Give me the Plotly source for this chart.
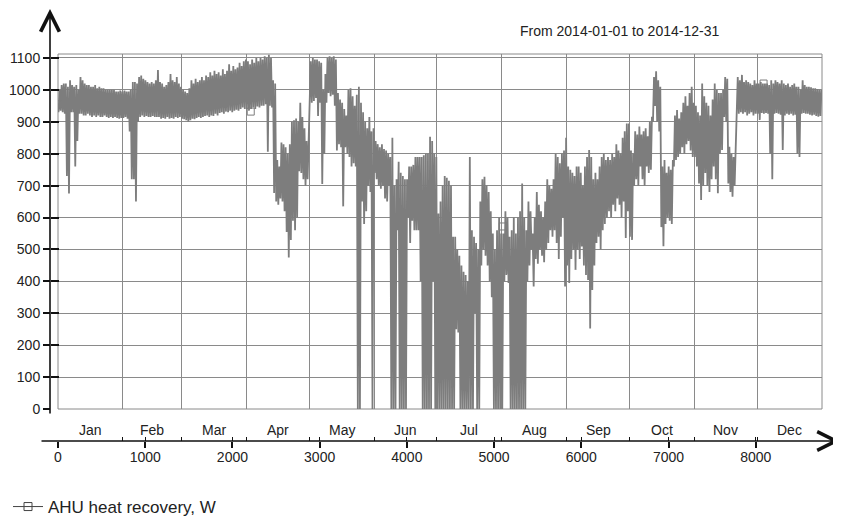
import plotly.graph_objects as go

# ---------------- data ----------------
months = ["Jan", "Feb", "Mar", "Apr", "May", "Jun",
          "Jul", "Aug", "Sep", "Oct", "Nov", "Dec"]
month_start_hours = [0, 744, 1416, 2160, 2880, 3624, 4344,
                     5088, 5832, 6552, 7296, 8016, 8760]
y_ticks = [0, 100, 200, 300, 400, 500, 600, 700, 800, 900, 1000, 1100]
x_ticks = [0, 1000, 2000, 3000, 4000, 5000, 6000, 7000, 8000]

# daily minimum / maximum of the hourly series (W)
day_low = [
    # Jan
    930, 935, 930, 925, 730, 675, 930, 930, 760, 840, 925, 925, 920, 920, 925, 920,
    915, 920, 915, 920, 915, 915, 920, 915, 912, 915, 912, 915, 912, 910, 912,
    # Feb
    912, 915, 910, 870, 720, 720, 650, 900, 915, 920, 915, 918, 915, 915, 918, 915,
    915, 915, 910, 912, 910, 915, 910, 912, 910, 915, 912, 915,
    # Mar
    910, 908, 905, 900, 905, 910, 908, 912, 915, 912, 915, 918, 920, 915, 920, 918,
    925, 920, 928, 930, 925, 932, 930, 935, 930, 935, 938, 935, 940, 945, 940,
    # Apr
    940, 935, 940, 945, 940, 948, 945, 950, 950, 955, 806, 950, 945, 677, 650, 640,
    660, 650, 620, 555, 475, 530, 590, 560, 600, 745, 740, 720, 700, 720,
    # May
    970, 960, 965, 975, 918, 960, 705, 800, 960, 990, 980, 985, 950, 810, 830, 820,
    635, 820, 800, 790, 760, 770, 760, 0, 0, 650, 580, 620, 700, 680, 0,
    # Jun
    740, 720, 700, 690, 700, 660, 650, 700, 0, 0, 0, 560, 0, 0, 0, 0,
    600, 520, 590, 560, 560, 560, 400, 0, 0, 0, 0, 0, 400, 0,
    # Jul
    0, 0, 0, 0, 0, 0, 0, 0, 0, 250, 240, 0, 0, 0, 0, 0,
    0, 0, 300, 0, 0, 450, 500, 480, 450, 400, 350, 0, 0, 0, 0,
    # Aug
    0, 400, 420, 395, 0, 0, 0, 0, 0, 0, 0, 0, 400, 450, 500, 384,
    470, 455, 500, 480, 460, 500, 520, 560, 540, 560, 520, 470, 540, 600, 384,
    # Sep
    450, 395, 470, 500, 436, 500, 470, 509, 450, 420, 404, 252, 373, 450, 520, 540,
    500, 560, 580, 600, 620, 600, 640, 620, 660, 640, 600, 650, 536, 620,
    # Oct
    540, 530, 700, 720, 700, 760, 720, 700, 760, 740, 750, 900, 950, 900, 870, 570,
    510, 580, 600, 590, 580, 760, 780, 790, 800, 820, 800, 830, 840, 810, 790,
    # Nov
    790, 760, 707, 655, 700, 740, 700, 680, 720, 760, 720, 676, 800, 812, 915, 900,
    707, 680, 665, 700, 920, 925, 930, 925, 930, 920, 925, 930, 920, 925,
    # Dec
    925, 906, 928, 925, 928, 925, 800, 720, 925, 928, 925, 922, 812, 920, 925, 922,
    925, 920, 922, 800, 790, 925, 928, 925, 925, 922, 920, 922, 918, 916, 918,
]
day_high = [
    # Jan
    1000, 1015, 1020, 1020, 1010, 1030, 1015, 1010, 1015, 1000, 1040, 1030, 1020, 1015, 1015, 1010,
    1010, 1015, 1005, 1010, 1005, 1005, 1000, 1000, 1000, 1000, 1000, 995, 995, 998, 995,
    # Feb
    998, 995, 995, 1000, 1025, 1025, 1020, 1040, 1045, 1035, 1030, 1025, 1020, 1025, 1020, 1030,
    1062, 1025, 1020, 1010, 1015, 1025, 1050, 1030, 1025, 1040, 1020, 1010,
    # Mar
    1000, 995, 990, 1005, 1030, 1020, 1035, 1025, 1030, 1040, 1030, 1045, 1040, 1055, 1045, 1060,
    1050, 1055, 1045, 1065, 1050, 1060, 1080, 1060, 1075, 1065, 1070, 1085, 1075, 1090, 1095,
    # Apr
    1090, 1080, 1095, 1085, 1100, 1090, 1100, 1095, 1105, 1100, 1110, 1100, 1030, 1020, 780, 760,
    835, 830, 820, 800, 830, 900, 905, 910, 900, 960, 915, 880, 840, 822,
    # May
    1090, 1100, 1095, 1095, 1090, 1085, 1000, 1050, 1100, 1105, 1100, 1105, 1095, 990, 970, 960,
    940, 920, 1000, 1005, 980, 950, 985, 1010, 960, 930, 900, 880, 915, 870, 880,
    # Jun
    840, 830, 820, 830, 815, 810, 800, 790, 850, 700, 720, 775, 740, 730, 720, 720,
    760, 760, 765, 790, 790, 790, 790, 795, 800, 800, 853, 840, 800, 790,
    # Jul
    613, 650, 700, 730, 725, 715, 700, 540, 540, 500, 480, 450, 430, 420, 400, 790,
    560, 540, 520, 500, 650, 720, 728, 700, 680, 620, 550, 500, 560, 600, 550,
    # Aug
    550, 620, 600, 540, 560, 600, 550, 600, 620, 707, 600, 560, 650, 620, 550, 600,
    680, 640, 620, 600, 650, 720, 700, 690, 720, 800, 790, 770, 800, 810, 850,
    # Sep
    760, 750, 740, 730, 760, 760, 740, 700, 760, 790, 812, 790, 720, 740, 720, 760,
    790, 800, 780, 790, 780, 800, 790, 830, 810, 800, 850, 870, 895, 895,
    # Oct
    810, 800, 870, 860, 885, 860, 870, 880, 855, 900, 916, 1040, 1058, 1030, 1010, 760,
    780, 740, 760, 750, 780, 920, 937, 910, 930, 960, 980, 950, 990, 1010, 960,
    # Nov
    950, 930, 920, 1020, 980, 960, 950, 920, 970, 1020, 1000, 990, 990, 1000, 1040, 1035,
    822, 800, 790, 820, 1040, 1030, 1047, 1025, 1030, 1025, 1020, 1015, 1030, 1020,
    # Dec
    1020, 1025, 1020, 1020, 1020, 1015, 1030, 1020, 1030, 1025, 1020, 1030, 1020, 1015, 1020, 1010,
    1015, 1020, 1010, 1010, 1000, 1030, 1015, 1010, 1010, 1008, 1005, 1005, 1003, 1000, 1000,
]
# hours where the series' square markers are drawn, and their values
marker_hours = [0, 2210, 5100, 8090]
marker_values = [955, 932, 572, 1020]

series_name = "AHU heat recovery, W"

# hourly trace: each day swings between its low and its high
hours, values = [], []
for d, (lo, hi) in enumerate(zip(day_low, day_high)):
    hours += [d * 24 + 6, d * 24 + 18]
    values += [lo, hi]

GRID = "#8a8a8a"
LINE = "#7d7d7d"
FONT = "Liberation Sans, Arial, sans-serif"

fig = go.Figure()
fig.add_trace(go.Scatter(x=hours, y=values, mode="lines",
                         line=dict(color=LINE, width=1.8),
                         showlegend=False, hoverinfo="skip"))
fig.add_trace(go.Scatter(x=marker_hours, y=marker_values, mode="markers",
                         marker=dict(symbol="square-open", size=7,
                                     color=LINE, line=dict(width=1)),
                         showlegend=False, hoverinfo="skip"))
fig.add_trace(go.Scatter(x=[None], y=[None], mode="lines+markers",
                         name=series_name,
                         line=dict(color="#444444", width=1),
                         marker=dict(symbol="square-open", size=8,
                                     color="#444444", line=dict(width=1))))
# helper axes (no visible data)
fig.add_trace(go.Scatter(x=[None], y=[None], xaxis="x2", yaxis="y",
                         showlegend=False, hoverinfo="skip"))
fig.add_trace(go.Scatter(x=[None], y=[None], xaxis="x3", yaxis="y",
                         showlegend=False, hoverinfo="skip"))
fig.add_trace(go.Scatter(x=[None], y=[None], xaxis="x", yaxis="y2",
                         showlegend=False, hoverinfo="skip"))

# the page body adds an 8px offset, so the figure is 8px smaller each way
W, H = 833, 512
ML, MR, MT, MB = 42, 19, 2, 79
PW, PH = W - ML - MR, H - MT - MB
x_dom = [8 / PW, 1]
y_dom = [32 / PH, 387 / PH]
x_range = [month_start_hours[0], month_start_hours[-1]]
y_range = [0, 1112.5]

annotations = []
for i, m in enumerate(months):
    annotations.append(dict(
        x=(month_start_hours[i] + month_start_hours[i + 1]) / 2, xref="x",
        y=0, yref="paper", yanchor="bottom", yshift=1,
        text=m, showarrow=False, font=dict(size=14, color="#222")))
# title text
annotations.append(dict(x=(619 - 50) / PW, xref="paper", y=(441 - 31) / PH,
                        yref="paper", text="From 2014-01-01 to 2014-12-31",
                        showarrow=False, font=dict(size=14, color="#222"),
                        xanchor="center", yanchor="middle"))
# y axis arrow
annotations.append(dict(x=0, xref="paper", y=(441 - 8) / PH, yref="paper",
                        ax=0, ay=415 - 8, axref="pixel", ayref="pixel",
                        showarrow=True, arrowhead=5, arrowsize=2.3,
                        arrowwidth=1.6, arrowcolor="#111", text=""))
# x axis arrow
annotations.append(dict(x=(840 - 50) / PW, xref="paper", y=0, yref="paper",
                        ax=-(840 - 40), ay=0, axref="pixel", ayref="pixel",
                        showarrow=True, arrowhead=5, arrowsize=2.3,
                        arrowwidth=1.6, arrowcolor="#111", text=""))

fig.update_layout(
    width=W, height=H,
    margin=dict(l=ML, r=MR, t=MT, b=MB, pad=0, autoexpand=False),
    paper_bgcolor="white", plot_bgcolor="white",
    font=dict(family=FONT, size=14, color="#222"),
    xaxis=dict(domain=x_dom, range=x_range, anchor="y",
               tickmode="array", tickvals=month_start_hours,
               showgrid=True, gridcolor=GRID, gridwidth=1,
               showticklabels=False, ticks="", zeroline=False, showline=False),
    xaxis2=dict(overlaying="x", anchor="free", position=0, range=x_range,
                tickmode="array", tickvals=x_ticks,
                ticktext=[str(v) for v in x_ticks],
                ticks="outside", ticklen=6, tickwidth=1.5, tickcolor="#111",
                ticklabelstandoff=-3,
                showgrid=False, zeroline=False, showline=False,
                tickfont=dict(size=14, color="#222")),
    xaxis3=dict(overlaying="x", anchor="free", position=0, range=x_range,
                tickmode="array", tickvals=sorted(set(month_start_hours[1:-1] + x_ticks)),
                ticks="inside", ticklen=4, tickwidth=1.2, tickcolor="#111",
                showticklabels=False, showgrid=False, zeroline=False, showline=False),
    yaxis=dict(domain=y_dom, range=y_range, anchor="free", position=0,
               tickmode="array", tickvals=y_ticks,
               ticks="outside", ticklen=7, tickwidth=1.5, tickcolor="#111",
               showgrid=True, gridcolor=GRID, gridwidth=1,
               zeroline=False, showline=False,
               tickfont=dict(size=14, color="#222")),
    yaxis2=dict(overlaying="y", anchor="free", position=0, range=y_range,
                tickmode="array", tickvals=y_ticks,
                ticks="inside", ticklen=8, tickwidth=1.5, tickcolor="#111",
                showticklabels=False, showgrid=False, zeroline=False, showline=False),
    shapes=[dict(type="rect", xref="x domain", yref="y domain",
                 x0=0, x1=1, y0=0, y1=1, line=dict(color=GRID, width=1),
                 layer="below")],
    annotations=annotations,
    showlegend=True,
    legend=dict(xref="container", yref="container", x=0, y=(H - 499) / H,
                xanchor="left", yanchor="middle", bgcolor="rgba(0,0,0,0)",
                font=dict(size=17, color="#222"), borderwidth=0),
)

fig.write_html("out.html")
